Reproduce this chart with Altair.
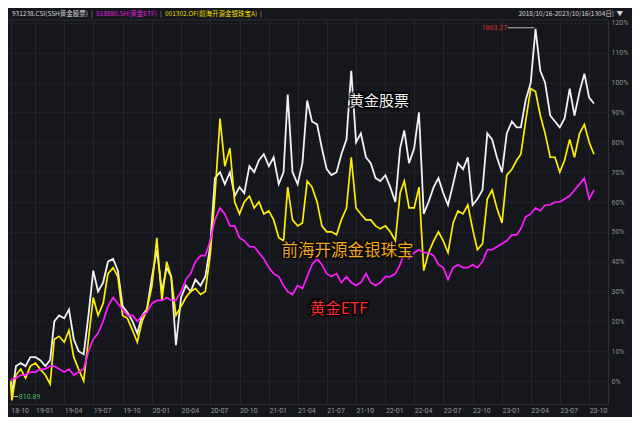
import altair as alt
import pandas as pd

# ---- dates: start, early dip, then semi-monthly (1st / 16th) to 2023-10-16
dates = ["2018-10-16T00:00:00", "2018-10-19T00:00:00"]
for yr in range(2018, 2024):
    for mo in range(1, 13):
        if (yr, mo) < (2018, 11) or (yr, mo) > (2023, 10):
            continue
        dates.append(f"{yr}-{mo:02d}-01T00:00:00")
        dates.append(f"{yr}-{mo:02d}-16T00:00:00")

# 931238.CSI 黄金股票 (white), % change
gold_stock = [0, -4.6,
    5, 6, 5, 8, 8, 7, 5, 7, 20, 22, 21, 24, 14, 10, 9, 22, 37, 30, 33, 40,
    41, 37, 25, 23, 20, 16, 22, 24, 35, 44, 30, 38, 35, 12, 28, 32, 30, 34, 32,
    35, 45, 68, 70, 66, 70, 62, 65, 63, 72, 70, 74, 76, 72, 75, 66, 70, 96, 70,
    66, 73, 94, 87, 86, 78, 71, 69, 70, 76, 81, 104, 80, 83, 75, 73, 68, 67, 69,
    65, 60, 78, 84, 73, 78, 90, 56, 60, 65, 68, 63, 59, 66, 73, 71, 75, 59, 61,
    64, 83, 81, 75, 70, 83, 87, 85, 85, 94, 100, 118, 104, 100, 89, 87, 85, 88,
    98, 89, 97, 103, 95, 93]

# 001302.OF 前海开源金银珠宝A (yellow), % change
fund = [0, -6.5,
    2, 4, 1, 5, 6, 4, 2, -1, 14, 15, 13, 17, 8, 4, 0, 14, 28, 22, 26, 36,
    38, 35, 22, 21, 17, 13, 20, 24, 32, 48, 27, 40, 35, 22, 25, 28, 30, 31, 29,
    30, 42, 62, 88, 72, 78, 60, 56, 60, 62, 58, 60, 56, 57, 54, 48, 47, 65, 54,
    52, 53, 67, 65, 60, 52, 50, 50, 49, 54, 58, 75, 58, 56, 54, 54, 52, 51, 52,
    50, 47, 63, 67, 58, 58, 65, 37, 43, 47, 50, 47, 43, 53, 57, 56, 59, 51, 44,
    46, 61, 64, 58, 53, 69, 71, 74, 76, 87, 98, 97, 89, 83, 75, 75, 70, 74,
    81, 75, 83, 86, 80, 76]

# 518880.SH 黄金ETF (magenta), % change
gold_etf = [0, 0.5,
    1, 2, 2, 3, 3, 4, 4, 5, 5, 4, 3, 4, 2, 3, 4, 10, 14, 16, 20, 25,
    28, 26, 24, 22, 22, 20, 22, 23, 26, 27, 27, 28, 27, 27, 30, 34, 36, 40, 42,
    42, 47, 54, 58, 56, 52, 52, 48, 47, 45, 45, 43, 41, 38, 36, 35, 32, 30, 29,
    32, 31, 35, 39, 41, 39, 36, 35, 36, 33, 35, 33, 32, 33, 36, 33, 32, 33, 35,
    35, 36, 39, 43, 41, 43, 44, 43, 43, 42, 39, 38, 34, 38, 39, 38, 38, 39, 38,
    40, 44, 44, 45, 46, 47, 49, 49, 51, 55, 56, 58, 57, 59, 59, 60, 60, 61,
    62, 64, 66, 68, 61, 64]

df = pd.DataFrame({"date": dates, "gold_stock": gold_stock,
                   "fund": fund, "gold_etf": gold_etf})

# annotation labels (anchored in data coordinates)
ann_text = ["黄金股票", "前海开源金银珠宝", "黄金ETF"]
ann_date = ["2021-12-12T00:00:00", "2021-09-04T00:00:00", "2021-08-08T00:00:00"]
ann_value = [94.0, 43.5, 24.2]
ann_color = ["#f2f2f2", "#f0a81c", "#ff2a2a"]
ann_size = [15, 16.5, 15.5]
ann = pd.DataFrame({"text": ann_text, "date": ann_date, "value": ann_value,
                    "color": ann_color, "size": ann_size})

# max / min markers
mk = pd.DataFrame({
    "label": ["1863.27", "810.89"],
    "date": ["2023-01-17T00:00:00", "2018-11-10T00:00:00"],
    "start": ["2023-01-19T00:00:00", "2018-10-21T00:00:00"],
    "end": ["2023-04-12T00:00:00", "2018-11-08T00:00:00"],
    "value": [118.4, -5.2],
    "color": ["#d8302e", "#3dbb5c"],
})

x_ticks = [alt.DateTime(year=2018, month=10, date=16)] + [
    alt.DateTime(year=y, month=m, date=1)
    for y in range(2019, 2024) for m in (1, 4, 7, 10)]

xscale = alt.Scale(domain=[alt.DateTime(year=2018, month=10, date=7),
                           alt.DateTime(year=2023, month=11, date=29)])
yscale = alt.Scale(domain=[-7.7, 121], nice=False, zero=False)

xaxis = alt.Axis(values=x_ticks, format="%y-%m", labelAlign="left",
                 labelFontSize=7, labelColor="#9a9a9a", labelPadding=2,
                 labelBaseline="top", ticks=False, domain=True,
                 domainColor="#2c2f36", grid=True, gridColor="#22252b",
                 labelOverlap=False, labelBound=False, labelFlush=False,
                 title=None, labelFont="Roboto")
yaxis = alt.Axis(values=list(range(0, 121, 10)), orient="right",
                 labelExpr="datum.value + '%'", labelFontSize=7,
                 labelColor="#8c8c8c", labelPadding=3, ticks=False,
                 domain=True, domainColor="#2c2f36", grid=True,
                 gridColor="#2a2a30", gridDash=[2, 2], title=None,
                 labelFont="Roboto")


def X(field):
    return alt.X(field, type="temporal", scale=xscale, axis=xaxis)


def Y(field):
    return alt.Y(field, type="quantitative", scale=yscale, axis=yaxis)


base = alt.Chart(df)
white = base.mark_line(color="#f2f2f2", strokeWidth=1.8).encode(
    x=X("date"), y=Y("gold_stock"))
yellow = base.mark_line(color="#ffee00", strokeWidth=1.7).encode(
    x=X("date"), y=Y("fund"))
magenta = base.mark_line(color="#ff1cff", strokeWidth=1.7).encode(
    x=X("date"), y=Y("gold_etf"))

labels_shadow = alt.Chart(ann).mark_text(
    font="Noto Sans CJK SC", fontWeight="bold", stroke="#000000",
    strokeWidth=3, strokeOpacity=0.6).encode(
    x=X("date"), y=Y("value"),
    text="text:N", size=alt.Size("size:Q", scale=None))
labels = alt.Chart(ann).mark_text(font="Noto Sans CJK SC").encode(
    x=X("date"), y=Y("value"),
    text="text:N", color=alt.Color("color:N", scale=None),
    size=alt.Size("size:Q", scale=None))

mk_rules = alt.Chart(mk).mark_rule(color="#bbbbbb", strokeWidth=1).encode(
    x=X("start"), x2="end:T", y=Y("value"))
mk_max = alt.Chart(mk.iloc[[0]]).mark_text(
    align="right", fontSize=7, font="Roboto").encode(
    x=X("date"), y=Y("value"),
    text="label:N", color=alt.Color("color:N", scale=None))
mk_min = alt.Chart(mk.iloc[[1]]).mark_text(
    align="left", fontSize=7, font="Roboto").encode(
    x=X("date"), y=Y("value"),
    text="label:N", color=alt.Color("color:N", scale=None))

# header
hdr_font = "Noto Sans CJK SC"


def hdr(txt, x, color, align="left"):
    return alt.Chart(df.iloc[[0]]).mark_text(
        text=txt, align=align, baseline="middle", fontSize=6.5,
        font=hdr_font, color=color).encode(
        x=alt.value(x), y=alt.value(-6))


header = [
    hdr("931238.CSI(SSH黄金股票)", 4, "#d6d6d6"),
    hdr("|", 83, "#b0b0b0"),
    hdr("518880.SH(黄金ETF)", 88, "#e020e0"),
    hdr("|", 152, "#b0b0b0"),
    hdr("001302.OF(前海开源金银珠宝A)", 157, "#eedd00"),
    hdr("|", 252, "#b0b0b0"),
    hdr("2018/10/16-2023/10/16(1304日)", 606, "#d6d6d6", align="right"),
    hdr("▼", 615, "#d6d6d6", align="right"),
]
top_rule = alt.Chart(df.iloc[[0]]).mark_rule(color="#2c2f36").encode(
    y=alt.value(0))

chart = alt.layer(
    white, yellow, magenta, top_rule, labels_shadow, labels,
    mk_rules, mk_max, mk_min, *header
).properties(
    width=600, height=384, autosize="none",
    padding={"left": 0, "top": 12, "right": 24, "bottom": 13},
).configure(background="#15171c").configure_view(stroke=None)

chart.save("out.html", embed_options={"renderer": "svg", "actions": False})
